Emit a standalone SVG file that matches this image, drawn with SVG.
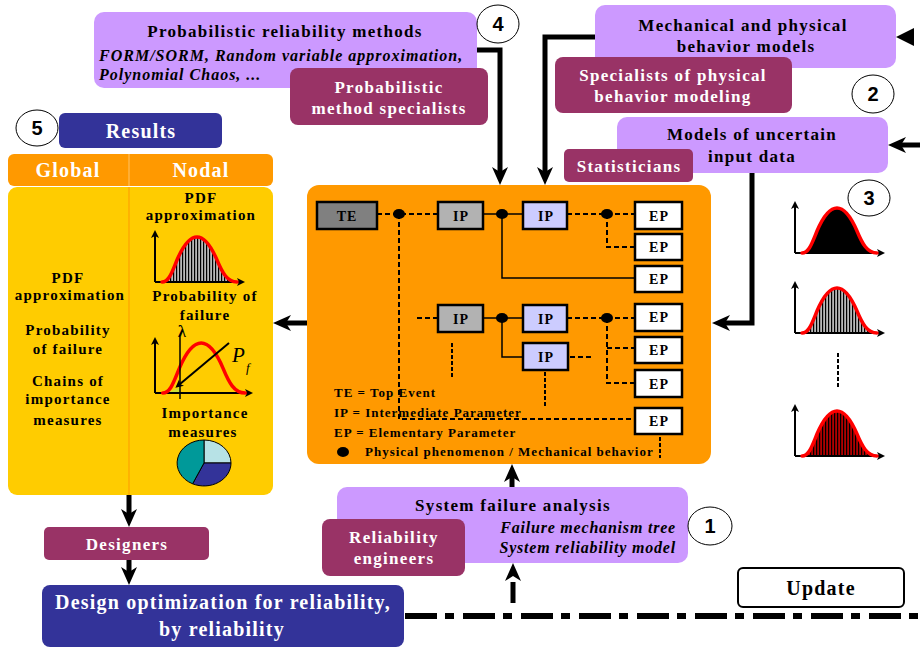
<svg xmlns="http://www.w3.org/2000/svg" width="922" height="648" viewBox="0 0 922 648">
<defs>
<style>
.sf{font-family:"Liberation Serif","Times New Roman",serif;font-weight:bold}
.c{text-anchor:middle}
.e{text-anchor:end}
.s17{font-size:17px;letter-spacing:1.3px}
.i16{font-size:16px;font-style:italic;letter-spacing:1px}
.i15{font-size:16px;font-style:italic;letter-spacing:0.8px}
.s15{font-size:15px;letter-spacing:1.2px}
.s13{font-size:13px;letter-spacing:1px}
.s14{font-size:14px;letter-spacing:1px}
.s20{font-size:20px;letter-spacing:1.2px}
.wt{fill:#fff}
.num{font-family:"Liberation Sans",Arial,sans-serif;font-weight:bold;font-size:20px;text-anchor:middle}
.pur{fill:#CC99FF}
.mag{fill:#993366}
.blu{fill:#333399}
.circ{fill:#fff;stroke:#000;stroke-width:1}
.conn{fill:none;stroke:#000;stroke-width:5;marker-end:url(#ah)}
.dash{fill:none;stroke:#000;stroke-width:2;stroke-dasharray:5 3}
.dot2{fill:none;stroke:#000;stroke-width:2;stroke-dasharray:4 2}
.thin{fill:none;stroke:#000;stroke-width:1.5}
.box{stroke:#000;stroke-width:2.5}
.red{fill:none;stroke:#F00;stroke-width:3.5;stroke-linejoin:round;stroke-linecap:round}
.ax{fill:none;stroke:#000;stroke-width:2;marker-end:url(#sah)}
</style>
<marker id="ah" viewBox="0 0 18 16" refX="5" refY="8" markerWidth="18" markerHeight="16" markerUnits="userSpaceOnUse" orient="auto">
<path d="M0,0 L18,8 L0,16 L5,8 Z" fill="#000"/>
</marker>
<marker id="sah" viewBox="0 0 8 8" refX="2" refY="4" markerWidth="8" markerHeight="8" markerUnits="userSpaceOnUse" orient="auto">
<path d="M0,0 L8,4 L0,8 L2,4 Z" fill="#000"/>
</marker>
<pattern id="hg" width="3" height="4" patternUnits="userSpaceOnUse">
<rect width="3" height="4" fill="#B8B8B8"/><rect width="1.2" height="4" fill="#000"/>
</pattern>
<pattern id="hr" width="3" height="4" patternUnits="userSpaceOnUse">
<rect width="3" height="4" fill="#B00000"/><rect width="1.2" height="4" fill="#000"/>
</pattern>
<path id="bell" d="M7,0 C14,0 17,-10 22,-22 C28,-36 35,-45 42,-45 C49,-45 56,-36 62,-22 C67,-10 72,0 82,0"/>
<g id="axes"><path class="ax" d="M0,0 V-46"/><path class="ax" d="M0,0 H84"/></g>
</defs>

<rect width="922" height="648" fill="#fff"/>

<!-- Central orange panel -->
<g id="tree-panel">
<rect x="307" y="185" width="404" height="279" rx="12" fill="#FF9900"/>
<g class="sf s13">
<text x="334" y="397">TE = Top Event</text>
<text x="334" y="417">IP = Intermediate Parameter</text>
<text x="334" y="437">EP = Elementary Parameter</text>
<text x="365" y="456">Physical phenomenon / Mechanical behavior</text>
</g>
<ellipse cx="343" cy="452" rx="6" ry="5" fill="#000"/>
</g>

<g id="tree-links">
<path class="dash" d="M377,214 H438"/>
<path class="dash" d="M399,214 V419 H635"/>
<path class="thin" d="M483,214 H523"/>
<path class="thin" d="M502,214 V278 H635"/>
<path class="dash" d="M567,214 H635"/>
<path class="dash" d="M607,214 V247 H635"/>
<path class="dash" d="M417,318 H438"/>
<path class="thin" d="M483,318 H523"/>
<path class="thin" d="M502,318 V357 H523"/>
<path class="dash" d="M567,318 H635"/>
<path class="dash" d="M607,318 V383 H635"/>
<path class="dash" d="M607,348 H635"/>
<path class="dash" d="M570,357 H593"/>
<path class="dot2" d="M545,372 V406"/>
<path class="dot2" d="M452,343 V377"/>
<path class="dot2" d="M660,437 V458"/>
</g>

<g id="TE"><rect class="box" x="317" y="202" width="60" height="27" fill="#808080"/><text class="sf s14 c" x="347" y="221">TE</text></g>
<g id="IP1"><rect class="box" x="438" y="202" width="45" height="27" fill="#B2B2B2"/><text class="sf s14 c" x="461" y="221">IP</text></g>
<g id="IP2"><rect class="box" x="523" y="202" width="44" height="27" fill="#CCCCFF"/><text class="sf s14 c" x="546" y="221">IP</text></g>
<g id="IP3"><rect class="box" x="438" y="305" width="45" height="27" fill="#B2B2B2"/><text class="sf s14 c" x="461" y="324">IP</text></g>
<g id="IP4"><rect class="box" x="523" y="305" width="44" height="27" fill="#CCCCFF"/><text class="sf s14 c" x="546" y="324">IP</text></g>
<g id="IP5"><rect class="box" x="523" y="343" width="45" height="27" fill="#CCCCFF"/><text class="sf s14 c" x="546" y="362">IP</text></g>
<g id="EP1"><rect class="box" x="635" y="202" width="47" height="27" fill="#fff"/><text class="sf s14 c" x="659" y="221">EP</text></g>
<g id="EP2"><rect class="box" x="635" y="234" width="47" height="26" fill="#fff"/><text class="sf s14 c" x="659" y="252">EP</text></g>
<g id="EP3"><rect class="box" x="635" y="266" width="47" height="26" fill="#fff"/><text class="sf s14 c" x="659" y="284">EP</text></g>
<g id="EP4"><rect class="box" x="635" y="304" width="47" height="27" fill="#fff"/><text class="sf s14 c" x="659" y="322">EP</text></g>
<g id="EP5"><rect class="box" x="635" y="337" width="47" height="26" fill="#fff"/><text class="sf s14 c" x="659" y="355">EP</text></g>
<g id="EP6"><rect class="box" x="635" y="370" width="47" height="27" fill="#fff"/><text class="sf s14 c" x="659" y="389">EP</text></g>
<g id="EP7"><rect class="box" x="635" y="408" width="47" height="26" fill="#fff"/><text class="sf s14 c" x="659" y="426">EP</text></g>
<g id="phenomena" fill="#000">
<ellipse cx="399" cy="214" rx="6" ry="5"/>
<ellipse cx="502" cy="214" rx="6" ry="5"/>
<ellipse cx="607" cy="214" rx="6" ry="5"/>
<ellipse cx="502" cy="318" rx="6" ry="5"/>
<ellipse cx="607" cy="318" rx="6" ry="5"/>
</g>

<!-- Main connectors -->
<g id="connectors">
<path class="conn" d="M477,50 H500 V172"/>
<path class="conn" d="M595,37 H545 V172"/>
<path class="conn" d="M752,173 V323 H725"/>
<path class="conn" d="M307,323 H286"/>
<path class="conn" d="M512,487 V477"/>
<path class="conn" d="M513,603 V576" stroke-dasharray="21 10"/>
<path class="conn" d="M129,495 V514"/>
<path class="conn" d="M129,560 V572"/>
<path class="conn" d="M920,145 H901"/>
<polygon points="896,37 914,28 914,46" fill="#000"/>
<path d="M405,616 H922" fill="none" stroke="#000" stroke-width="6" stroke-dasharray="32 8 9 9"/>
</g>

<!-- Top boxes -->
<g id="prob-methods">
<rect class="pur" x="94" y="12" width="383" height="76" rx="10"/>
<text class="sf s17 c" x="285" y="37">Probabilistic reliability methods</text>
<text class="sf i16" x="99" y="61">FORM/SORM, Random variable approximation,</text>
<text class="sf i16" x="99" y="80">Polynomial Chaos, ...</text>
</g>
<g id="prob-specialists">
<rect class="mag" x="290" y="68" width="198" height="57" rx="8"/>
<text class="sf s17 c wt" x="389" y="93">Probabilistic</text>
<text class="sf s17 c wt" x="389" y="114">method specialists</text>
</g>
<g id="circle4"><ellipse class="circ" cx="498" cy="24" rx="21" ry="19"/><text class="num" x="498" y="31">4</text></g>

<g id="mech-models">
<rect class="pur" x="595" y="5" width="301" height="63" rx="10"/>
<text class="sf s17 c" x="743" y="31">Mechanical and physical</text>
<text class="sf s17 c" x="746" y="52">behavior models</text>
</g>
<g id="phys-specialists">
<rect class="mag" x="555" y="57" width="237" height="56" rx="8"/>
<text class="sf s17 c wt" x="673" y="81">Specialists of physical</text>
<text class="sf s17 c wt" x="673" y="102">behavior modeling</text>
</g>
<g id="circle2"><ellipse class="circ" cx="873" cy="94" rx="21" ry="19"/><text class="num" x="873" y="101">2</text></g>

<g id="input-models">
<rect class="pur" x="617" y="117" width="271" height="56" rx="10"/>
<text class="sf s17 c" x="752" y="140">Models of uncertain</text>
<text class="sf s17 c" x="752" y="162">input data</text>
</g>
<g id="statisticians">
<rect class="mag" x="564" y="149" width="129" height="33" rx="5"/>
<text class="sf s17 c wt" x="629" y="172">Statisticians</text>
</g>

<!-- Input distributions -->
<g id="input-pdfs">
<g id="circle3"><ellipse class="circ" cx="869" cy="198" rx="21" ry="18"/><text class="num" x="869" y="205">3</text></g>
<g transform="translate(795,253)"><use href="#bell" fill="#000" stroke="none"/><use href="#axes"/><use href="#bell" class="red"/></g>
<g transform="translate(795,333)"><use href="#bell" fill="url(#hg)" stroke="none"/><use href="#axes"/><use href="#bell" class="red"/></g>
<path d="M838,353 V387" fill="none" stroke="#000" stroke-width="2" stroke-dasharray="4 2"/>
<g transform="translate(795,456)"><use href="#bell" fill="url(#hr)" stroke="none"/><use href="#axes"/><use href="#bell" class="red"/></g>
</g>

<!-- Results -->
<g id="results">
<g id="circle5"><ellipse class="circ" cx="37" cy="128" rx="21" ry="18"/><text class="num" x="37" y="135">5</text></g>
<rect class="blu" x="59" y="113" width="163" height="35" rx="6"/>
<text class="sf s20 c wt" x="141" y="138">Results</text>
<rect x="8" y="154" width="265" height="32" rx="6" fill="#FF9900"/>
<line x1="129" y1="154" x2="129" y2="186" stroke="#FFC266" stroke-width="1"/>
<text class="sf s20 c wt" x="68" y="177">Global</text>
<text class="sf s20 c wt" x="201" y="177">Nodal</text>
<rect x="8" y="187" width="265" height="308" rx="9" fill="#FFCC00"/>
<line x1="129" y1="187" x2="129" y2="495" stroke="#FF9900" stroke-width="1"/>
<g class="sf s15 c">
<text x="68" y="283">PDF</text>
<text x="70" y="300">approximation</text>
<text x="68" y="335">Probability</text>
<text x="68" y="354">of failure</text>
<text x="68" y="386">Chains of</text>
<text x="68" y="404">importance</text>
<text x="68" y="425">measures</text>
<text x="201" y="203">PDF</text>
<text x="201" y="220">approximation</text>
<text x="205" y="301">Probability of</text>
<text x="205" y="320">failure</text>
</g>
<g transform="translate(155,282)"><use href="#bell" fill="url(#hg)" stroke="none"/><use href="#axes"/><use href="#bell" class="red"/></g>
<path d="M164,393 L180,393 L180,387 C174,390 169,392 164,393 Z" fill="#CCDD33"/>
<path class="ax" d="M155,393 V343"/>
<path class="ax" d="M155,393 H247"/>
<g transform="translate(155,393) scale(1.1 1.11)"><use href="#bell" class="red" style="stroke-width:3.2px"/></g>
<line x1="180" y1="337" x2="180" y2="399" stroke="#000" stroke-width="1.5"/>
<path d="M229,343 L180,384" fill="none" stroke="#000" stroke-width="2" marker-end="url(#sah)"/>
<text x="182" y="337" class="sf c" font-size="16">λ</text>
<text x="232" y="362" font-family="Liberation Serif, serif" font-style="italic" font-size="21">P</text>
<text x="246" y="372" font-family="Liberation Serif, serif" font-style="italic" font-size="13">f</text>
<g class="sf s15 c">
<text x="205" y="418">Importance</text>
<text x="203" y="437">measures</text>
</g>
<g stroke="#000" stroke-width="1">
<path d="M204,463 L204,440 A27,23 0 0,1 231,463 Z" fill="#B7E2E6"/>
<path d="M204,463 L231,463 A27,23 0 0,1 192.6,483.8 Z" fill="#333399"/>
<path d="M204,463 L192.6,483.8 A27,23 0 0,1 204,440 Z" fill="#009999"/>
</g>
</g>

<!-- Bottom -->
<g id="system-failure">
<rect class="pur" x="337" y="487" width="351" height="76" rx="10"/>
<text class="sf s17 c" x="513" y="511">System failure analysis</text>
<text class="sf i15 e" x="676" y="533">Failure mechanism tree</text>
<text class="sf i15 e" x="676" y="553">System reliability model</text>
</g>
<g id="circle1"><ellipse class="circ" cx="710" cy="526" rx="22" ry="19"/><text class="num" x="710" y="533">1</text></g>
<g id="reliability-engineers">
<rect class="mag" x="322" y="519" width="143" height="57" rx="8"/>
<text class="sf s17 c wt" x="394" y="543">Reliability</text>
<text class="sf s17 c wt" x="394" y="564">engineers</text>
</g>
<g id="designers">
<rect class="mag" x="44" y="527" width="165" height="33" rx="5"/>
<text class="sf s17 c wt" x="127" y="550">Designers</text>
</g>
<g id="design-opt">
<rect class="blu" x="42" y="585" width="362" height="62" rx="8"/>
<text class="sf s20 c wt" x="223" y="609">Design optimization for reliability,</text>
<text class="sf s20 c wt" x="222" y="636">by reliability</text>
</g>
<g id="update">
<rect x="738" y="568" width="166" height="39" rx="5" fill="#fff" stroke="#000" stroke-width="2"/>
<text class="sf s20 c" x="821" y="595">Update</text>
</g>
</svg>
